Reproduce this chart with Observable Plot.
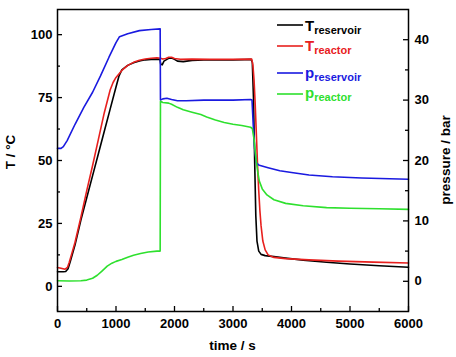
<!DOCTYPE html>
<html><head><meta charset="utf-8">
<script src="https://cdn.jsdelivr.net/npm/d3@7"></script>
<script src="https://cdn.jsdelivr.net/npm/@observablehq/plot@0.6"></script>
<style>
body{margin:0;background:#fff;}
#chart{position:relative;width:456px;height:357px;}
</style></head><body><div id="chart"></div>
<script>
// ---- data ----
const tTRes = [0,100,140,180,220,300,400,500,600,700,800,900,1000,1050,1100,1200,1300,1400,1500,1600,1700,1750,1765,1790,1820,1900,1950,2000,2050,2150,2300,2500,2800,3000,3200,3310,3330,3350,3370,3390,3410,3440,3480,3550,3700,3900,4200,4600,5000,5500,6000];
const vTRes = [5.8,5.8,5.9,7,10,16.5,26.3,35.2,44,52.8,61.6,70.4,79.2,83.5,86,87.8,88.8,89.5,90,90.2,90.3,90.2,88.2,88.0,89.5,90.6,90.7,90.2,89.5,89.3,89.8,90,90,90,90.1,90.2,89,75,50,28,18,14,12.7,12.2,11.8,11.2,10.4,9.6,8.9,8.2,7.6];

const tTReac = [0,60,130,170,200,250,300,400,500,600,700,800,900,950,1000,1100,1200,1300,1400,1500,1600,1700,1760,1800,1850,1900,1950,2000,2100,2300,2600,3000,3320,3340,3360,3380,3400,3420,3440,3460,3480,3510,3550,3600,3700,3900,4300,4800,5400,6000];
const vTReac = [7.5,7.2,6.8,7.5,9.5,13.5,17.5,27.5,38,48,58.5,69,78,81,83,85.8,87.8,89,89.8,90.3,90.6,90.8,90.6,90.3,90.5,91.0,91.0,90.5,90.2,90.3,90.2,90.2,90.3,88,82,72,60,48,38,30,24,18,14.5,12.5,11.5,11.0,10.5,10.0,9.6,9.3];

const tPRes = [0,60,100,165,300,450,600,735,880,1000,1060,1200,1400,1600,1755,1760,1800,1870,1950,2050,2200,2500,3000,3300,3325,3345,3370,3400,3450,3600,3800,4000,4300,4700,5200,6000];
const vPRes = [22,22,22.3,23.3,26,28.8,31.3,34,37.1,39.5,40.5,41.0,41.5,41.7,41.8,30.0,30.2,30.3,30.1,29.9,29.9,30.0,30.0,30.1,30.0,26,22,19.6,19.2,18.8,18.3,18.0,17.6,17.3,17.1,16.9];

const tPReac = [0,200,400,500,600,680,760,850,930,1000,1100,1200,1300,1420,1550,1700,1755,1760,1800,1900,1950,2050,2150,2300,2450,2550,2700,2850,3000,3150,3300,3330,3360,3390,3420,3450,3500,3580,3700,3900,4200,4600,5000,5500,6000];
const vPReac = [0.1,0.05,0.1,0.2,0.5,1.0,1.7,2.5,3.0,3.3,3.6,4.0,4.3,4.6,4.85,5.0,5.0,29.8,29.6,29.5,29.3,28.8,28.4,28.0,27.6,27.2,26.7,26.3,26.0,25.8,25.5,25.3,23.5,20.5,18.3,16.6,15.3,14.3,13.5,12.9,12.5,12.2,12.1,12.0,11.9];

const xMajor = [0,1000,2000,3000,4000,5000,6000];
const xMinor = [500,1500,2500,3500,4500,5500];
const TMajor = [0,25,50,75,100];
const TMinor = [12.5,37.5,62.5,87.5];
const pMajor = [0,10,20,30,40];
const pMinor = [5,15,25,35];
const seriesNames = ["reservoir","reactor","reservoir","reactor"];
const seriesSymbols = ["T","T","p","p"];
const seriesColors = ["#000000","#e8201e","#1a1ae0","#2ee02e"];
const titles = {x: "time / s", yLeft: "T / °C", yRight: "pressure / bar"};

// ---- scales ----
const xDomain = [0,6000];
const TDomain = [-10,110];
const pDomain = [-5,45];
const pToT = d3.scaleLinear().domain(pDomain).range(TDomain);

const rows = (ts, vs, f = d => d) => ts.map((t, i) => ({t, v: f(vs[i])}));

const W = 456, H = 357, mL = 57, mR = 48, mT = 9, mB = 46;
const fw = W - mL - mR, fh = H - mT - mB;
const major = 5, minor = 3;

const font = "Liberation Sans, Arial, sans-serif";
const axisText = {fontSize: 13, fontWeight: "bold", fill: "#000"};
const tickStyle = {stroke: "#000", strokeWidth: 1.3};

const chart = Plot.plot({
  width: W, height: H,
  marginLeft: mL, marginRight: mR, marginTop: mT, marginBottom: mB,
  style: {fontFamily: font, fontSize: "13px", fontWeight: "bold", color: "#000", background: "#fff", overflow: "visible"},
  x: {domain: xDomain},
  y: {domain: TDomain},
  marks: [
    Plot.line(rows(tTRes, vTRes), {x: "t", y: "v", stroke: seriesColors[0], strokeWidth: 1.6}),
    Plot.line(rows(tTReac, vTReac), {x: "t", y: "v", stroke: seriesColors[1], strokeWidth: 1.6}),
    Plot.line(rows(tPRes, vPRes, pToT), {x: "t", y: "v", stroke: seriesColors[2], strokeWidth: 1.6}),
    Plot.line(rows(tPReac, vPReac, pToT), {x: "t", y: "v", stroke: seriesColors[3], strokeWidth: 1.6}),
    Plot.frame({stroke: "#000", strokeWidth: 1.5}),
    // inward ticks
    Plot.tickX(xMajor, {x: d => d, insetTop: fh - major, ...tickStyle}),
    Plot.tickX(xMinor, {x: d => d, insetTop: fh - minor, ...tickStyle}),
    Plot.tickY(TMajor, {y: d => d, insetRight: fw - major, ...tickStyle}),
    Plot.tickY(TMinor, {y: d => d, insetRight: fw - minor, ...tickStyle}),
    Plot.tickY(pMajor.map(pToT), {y: d => d, insetLeft: fw - major, ...tickStyle}),
    Plot.tickY(pMinor.map(pToT), {y: d => d, insetLeft: fw - minor, ...tickStyle}),
    // tick labels
    Plot.axisX(xMajor, {tickSize: 0, tickPadding: 7, ...axisText, tickFormat: d3.format("d"), label: null}),
    Plot.axisY(TMajor, {anchor: "left", tickSize: 0, tickPadding: 5, ...axisText, tickFormat: d3.format("d"), label: null}),
    Plot.axisY(pMajor.map(pToT), {anchor: "right", tickSize: 0, tickPadding: 6, ...axisText, tickFormat: d => Math.round(pToT.invert(d)), label: null})
  ]
});
document.getElementById("chart").appendChild(chart);

const svg = d3.select(chart);

// ---- axis titles ----
const tg = svg.append("g").attr("font-family", font).attr("font-weight", "bold").attr("font-size", 13.5).attr("fill", "#000").attr("text-anchor", "middle");
tg.append("text").attr("x", mL + fw / 2).attr("y", 350).text(titles.x);
tg.append("text").attr("transform", "translate(15,152) rotate(-90)").text(titles.yLeft);
tg.append("text").attr("transform", "translate(450,160) rotate(-90)").text(titles.yRight);

// ---- legend ----
const lg = svg.append("g").attr("font-family", font).attr("text-anchor", "start");
const lineY = [25, 46, 73, 94];
const baseY = [31, 51, 78, 98];
seriesNames.forEach((name, i) => {
  lg.append("line").attr("x1", 277).attr("x2", 303).attr("y1", lineY[i]).attr("y2", lineY[i])
    .attr("stroke", seriesColors[i]).attr("stroke-width", 1.6);
  const tx = lg.append("text").attr("x", 305).attr("y", baseY[i]).attr("fill", seriesColors[i]).attr("font-weight", "bold");
  tx.append("tspan").attr("font-size", 15).text(seriesSymbols[i]);
  tx.append("tspan").attr("font-size", 11).attr("dy", 2.5).text(name);
});
</script></body></html>
